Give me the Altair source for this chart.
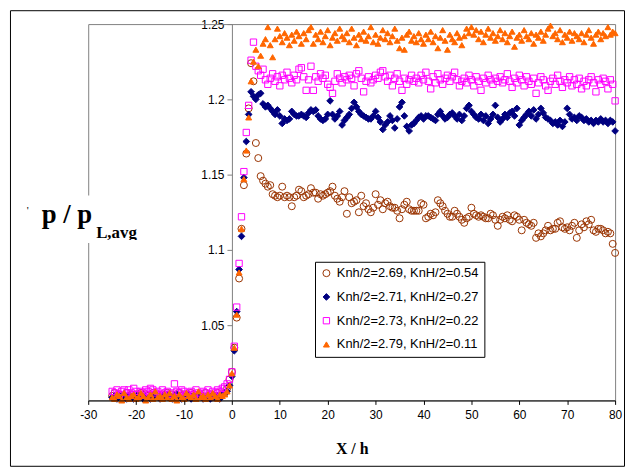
import altair as alt
import pandas as pd

# ---------------- data ----------------
X_START = -25.0
X_STEP = 0.5
N_POINTS = 211
x_values = [round(X_START + X_STEP * i, 2) for i in range(N_POINTS)]

series_labels = [
    "Knh/2=2.69, KnH/2=0.54",
    "Knh/2=2.71, KnH/2=0.27",
    "Knh/2=2.73, KnH/2=0.22",
    "Knh/2=2.79, KnH/2=0.11",
]

# brown open circles
p_269 = [
    1.003, 1.005, 1.002, 1.004, 1.003, 1.002, 1.005, 1.003, 1.004, 1.002,
    1.004, 1.003, 1.005, 1.002, 1.004, 1.003, 1.002, 1.005, 1.003, 1.004,
    1.002, 1.004, 1.003, 1.005, 1.002, 1.004, 1.003, 1.002, 1.005, 1.003,
    1.004, 1.002, 1.003, 1.005, 1.004, 1.002, 1.003, 1.004, 1.002, 1.005,
    1.003, 1.004, 1.002, 1.003, 1.005, 1.003, 1.004, 1.005, 1.008, 1.014,
    1.019, 1.035, 1.055, 1.081, 1.114, 1.143, 1.164, 1.194, 1.224, 1.212, 1.171, 1.161, 1.149, 1.146, 1.144, 1.142,
    1.143, 1.137, 1.136, 1.135, 1.136, 1.142, 1.135, 1.136, 1.135, 1.129, 1.135, 1.136, 1.140, 1.139, 1.135, 1.136,
    1.137, 1.141, 1.138, 1.138, 1.134, 1.137, 1.136, 1.137, 1.138, 1.139, 1.142, 1.136, 1.134, 1.132, 1.135, 1.139,
    1.124, 1.135, 1.131, 1.132, 1.133, 1.125, 1.136, 1.129, 1.131, 1.127, 1.125, 1.128, 1.137, 1.130, 1.133, 1.127,
    1.131, 1.132, 1.129, 1.128, 1.128, 1.126, 1.121, 1.127, 1.130, 1.132, 1.127, 1.126, 1.126, 1.126, 1.126, 1.131,
    1.130, 1.121, 1.122, 1.124, 1.123, 1.125, 1.133, 1.131, 1.129, 1.126, 1.124, 1.122, 1.122, 1.126, 1.124, 1.122,
    1.120, 1.118, 1.121, 1.122, 1.128, 1.124, 1.123, 1.122, 1.123, 1.122, 1.121, 1.121, 1.124, 1.123, 1.120, 1.116,
    1.120, 1.122, 1.121, 1.123, 1.120, 1.119, 1.123, 1.122, 1.120, 1.113, 1.120, 1.118, 1.117, 1.116, 1.118, 1.108,
    1.111, 1.109, 1.111, 1.113, 1.116, 1.113, 1.114, 1.114, 1.118, 1.119, 1.115, 1.114, 1.115, 1.113, 1.116, 1.118,
    1.108, 1.113, 1.117, 1.115, 1.119, 1.117, 1.120, 1.113, 1.112, 1.114, 1.114, 1.113, 1.111, 1.112, 1.111, 1.104,
    1.098,
]

# navy filled diamonds
p_271 = [
    1.002, 1.003, 1.001, 1.003, 1.002, 1.004, 1.001, 1.003, 1.002, 1.001,
    1.003, 1.002, 1.004, 1.001, 1.003, 1.002, 1.001, 1.004, 1.002, 1.003,
    1.001, 1.003, 1.002, 1.004, 1.002, 1.001, 1.003, 1.004, 1.002, 1.001,
    1.003, 1.002, 1.004, 1.001, 1.003, 1.002, 1.004, 1.003, 1.001, 1.002,
    1.003, 1.001, 1.004, 1.002, 1.003, 1.001, 1.004, 1.005, 1.006, 1.010,
    1.016, 1.033, 1.059, 1.087, 1.109, 1.148, 1.172, 1.190, 1.205, 1.202, 1.200, 1.203, 1.204, 1.197, 1.195, 1.196,
    1.194, 1.192, 1.190, 1.193, 1.189, 1.184, 1.187, 1.186, 1.187, 1.192, 1.190, 1.189, 1.189, 1.190, 1.189, 1.188,
    1.191, 1.193, 1.192, 1.193, 1.189, 1.187, 1.186, 1.187, 1.190, 1.199, 1.190, 1.187, 1.189, 1.192, 1.183, 1.186,
    1.188, 1.190, 1.194, 1.198, 1.195, 1.192, 1.190, 1.189, 1.188, 1.187, 1.187, 1.189, 1.192, 1.188, 1.185, 1.180,
    1.183, 1.185, 1.189, 1.186, 1.181, 1.187, 1.195, 1.198, 1.189, 1.182, 1.179, 1.183, 1.184, 1.186, 1.188, 1.189,
    1.187, 1.189, 1.189, 1.188, 1.187, 1.186, 1.190, 1.192, 1.189, 1.187, 1.188, 1.190, 1.191, 1.189, 1.187, 1.190,
    1.186, 1.189, 1.194, 1.196, 1.192, 1.190, 1.188, 1.187, 1.190, 1.186, 1.189, 1.184, 1.187, 1.190, 1.196, 1.188,
    1.185, 1.187, 1.190, 1.188, 1.191, 1.192, 1.189, 1.194, 1.183, 1.186, 1.188, 1.190, 1.192, 1.189, 1.193, 1.187,
    1.190, 1.194, 1.191, 1.188, 1.187, 1.186, 1.184, 1.185, 1.183, 1.186, 1.182, 1.185, 1.194, 1.190, 1.187, 1.188,
    1.186, 1.189, 1.188, 1.186, 1.187, 1.185, 1.186, 1.184, 1.186, 1.185, 1.187, 1.185, 1.186, 1.184, 1.186, 1.185,
    1.179,
]

# magenta open squares
p_273 = [
    1.006, 1.005, 1.007, 1.004, 1.006, 1.007, 1.005, 1.007, 1.005, 1.008,
    1.006, 1.004, 1.006, 1.005, 1.007, 1.006, 1.008, 1.007, 1.005, 1.006,
    1.004, 1.007, 1.005, 1.006, 1.004, 1.005, 1.011, 1.006, 1.005, 1.007,
    1.006, 1.004, 1.005, 1.006, 1.004, 1.007, 1.005, 1.003, 1.006, 1.005,
    1.007, 1.004, 1.006, 1.005, 1.007, 1.006, 1.008, 1.009, 1.011, 1.014,
    1.019, 1.036, 1.062, 1.091, 1.122, 1.152, 1.178, 1.196, 1.226, 1.238, 1.222, 1.219, 1.216, 1.220, 1.213, 1.210,
    1.214, 1.217, 1.212, 1.215, 1.209, 1.216, 1.213, 1.218, 1.214, 1.211, 1.216, 1.213, 1.220, 1.221, 1.215, 1.206,
    1.213, 1.222, 1.206, 1.215, 1.212, 1.217, 1.214, 1.216, 1.210, 1.208, 1.204, 1.212, 1.217, 1.214, 1.211, 1.215,
    1.213, 1.216, 1.214, 1.209, 1.217, 1.219, 1.214, 1.205, 1.212, 1.215, 1.211, 1.213, 1.216, 1.214, 1.218, 1.219,
    1.215, 1.212, 1.216, 1.209, 1.214, 1.217, 1.212, 1.206, 1.214, 1.210, 1.213, 1.216, 1.212, 1.214, 1.211, 1.216,
    1.213, 1.218, 1.212, 1.207, 1.215, 1.211, 1.217, 1.213, 1.210, 1.214, 1.216, 1.212, 1.215, 1.218, 1.213, 1.209,
    1.212, 1.214, 1.211, 1.216, 1.213, 1.209, 1.215, 1.212, 1.206, 1.214, 1.211, 1.216, 1.213, 1.210, 1.214, 1.212,
    1.215, 1.211, 1.213, 1.217, 1.212, 1.208, 1.214, 1.211, 1.216, 1.213, 1.209, 1.215, 1.212, 1.210, 1.214, 1.204,
    1.211, 1.215, 1.213, 1.209, 1.206, 1.212, 1.214, 1.210, 1.216, 1.212, 1.208, 1.213, 1.211, 1.215, 1.209, 1.213,
    1.210, 1.214, 1.207, 1.212, 1.209, 1.213, 1.215, 1.211, 1.205, 1.213, 1.210, 1.214, 1.212, 1.207, 1.213, 1.210,
    1.199,
]

# orange filled triangles
p_279 = [
    1.002, 1.001, 1.004, 1.003, 1.000, 1.005, 1.002, 1.001, 1.003, 1.004,
    1.001, 1.002, 1.005, 1.003, 1.000, 1.002, 1.004, 1.001, 1.006, 1.002,
    1.003, 1.001, 1.004, 1.002, 1.005, 1.001, 1.003, 1.000, 1.004, 1.002,
    1.001, 1.005, 1.003, 1.002, 1.004, 1.001, 1.006, 1.002, 1.003, 1.001,
    1.004, 1.002, 1.005, 1.003, 1.001, 1.004, 1.003, 1.004, 1.006, 1.010,
    1.018, 1.035, 1.057, 1.085, 1.114, 1.147, 1.166, 1.188, 1.212, 1.225, 1.233, 1.222, 1.229, 1.237, 1.240, 1.248,
    1.236, 1.228, 1.240, 1.247, 1.242, 1.238, 1.244, 1.241, 1.236, 1.243, 1.239, 1.245, 1.242, 1.237, 1.244, 1.240,
    1.246, 1.248, 1.237, 1.243, 1.240, 1.245, 1.238, 1.242, 1.246, 1.236, 1.241, 1.244, 1.239, 1.247, 1.242, 1.240,
    1.244, 1.238, 1.247, 1.241, 1.236, 1.243, 1.240, 1.245, 1.239, 1.242, 1.248, 1.238, 1.243, 1.237, 1.241, 1.246,
    1.240, 1.244, 1.238, 1.242, 1.247, 1.239, 1.234, 1.241, 1.233, 1.243, 1.245, 1.239, 1.242, 1.238, 1.244, 1.240,
    1.237, 1.243, 1.240, 1.245, 1.238, 1.242, 1.234, 1.241, 1.246, 1.239, 1.233, 1.243, 1.240, 1.238, 1.244, 1.241,
    1.236, 1.242, 1.247, 1.244, 1.248, 1.243, 1.246, 1.240, 1.245, 1.238, 1.243, 1.247, 1.241, 1.244, 1.239, 1.242,
    1.246, 1.240, 1.244, 1.238, 1.242, 1.245, 1.235, 1.241, 1.243, 1.239, 1.246, 1.242, 1.240, 1.244, 1.237, 1.243,
    1.241, 1.245, 1.239, 1.243, 1.247, 1.249, 1.242, 1.244, 1.240, 1.246, 1.238, 1.243, 1.241, 1.245, 1.239, 1.244,
    1.242, 1.240, 1.244, 1.238, 1.243, 1.246, 1.241, 1.237, 1.243, 1.245, 1.240, 1.244, 1.242, 1.248, 1.243, 1.245,
    1.244,
]

series_values = [p_269, p_271, p_273, p_279]
series_colors = ["#993300", "#000080", "#FF00FF", "#FF6600"]
series_fills = ["transparent", "#000080", "transparent", "#FF6600"]
series_shapes = ["circle", "diamond", "square", "triangle-up"]
series_sizes = [50, 36, 28, 50]

x_ticks = [-30, -20, -10, 0, 10, 20, 30, 40, 50, 60, 70, 80]
y_ticks = [1.05, 1.1, 1.15, 1.2, 1.25]

rows = []
for lab, ys in zip(series_labels, series_values):
    assert len(ys) == N_POINTS, (lab, len(ys))
    for xv, yv in zip(x_values, ys):
        rows.append({"x": xv, "y": yv, "series": lab})
df = pd.DataFrame(rows)

# ---------------- layout ----------------
W, H = 532, 380
X_MIN, X_MAX = -30, 80
Y_MIN, Y_MAX = 1.0, 1.25
Y_AXIS_POS = W * (0 - X_MIN) / (X_MAX - X_MIN)  # y axis crosses at x = 0

xscale = alt.Scale(domain=[X_MIN, X_MAX], nice=False, zero=False)
yscale = alt.Scale(domain=[Y_MIN, Y_MAX], nice=False, zero=False)

one = pd.DataFrame({"k": [0]})

# outer chart-area frame (black) and plot-area frame (gray)
outer_frame = alt.Chart(one).mark_rect(fillOpacity=0, stroke="black", strokeWidth=1).encode(
    x=alt.value(-78.5), x2=alt.value(541.5), y=alt.value(-13.5), y2=alt.value(446.5)
)
plot_frame = alt.Chart(one).mark_rect(fillOpacity=0, stroke="#808080", strokeWidth=1).encode(
    x=alt.value(0.5), x2=alt.value(W + 0.5), y=alt.value(0.5), y2=alt.value(H + 0.5)
)

points = alt.Chart(df).mark_point(filled=False, opacity=1, strokeWidth=1).encode(
    x=alt.X(
        "x:Q", scale=xscale,
        axis=alt.Axis(
            values=x_ticks, title="X / h", grid=False, zindex=1,
            domainColor="black", tickColor="black", tickSize=4,
            labelFont="Liberation Sans", labelFontSize=12, labelColor="black",
            labelPadding=5, labelFlush=False, labelOverlap=False,
            labelExpr="'' + datum.value",
            titleFont="Liberation Serif", titleFontSize=16, titleFontWeight="bold",
            titleColor="black", titlePadding=21,
        ),
    ),
    y=alt.Y(
        "y:Q", scale=yscale,
        axis=alt.Axis(
            values=y_ticks, title=None, grid=False, offset=-Y_AXIS_POS,
            domainColor="#808080", tickColor="#808080", tickSize=5,
            labelFont="Liberation Sans", labelFontSize=12, labelColor="black",
            labelPadding=3, labelOverlap=False,
            labelExpr="'' + datum.value",
        ),
    ),
    color=alt.Color("series:N", scale=alt.Scale(domain=series_labels, range=series_colors),
                    legend=alt.Legend(title=None)),
    fill=alt.Fill("series:N", scale=alt.Scale(domain=series_labels, range=series_fills),
                  legend=alt.Legend(title=None)),
    shape=alt.Shape("series:N", scale=alt.Scale(domain=series_labels, range=series_shapes),
                    legend=alt.Legend(title=None)),
    size=alt.Size("series:N", scale=alt.Scale(domain=series_labels, range=series_sizes), legend=None),
)

# y-axis title box (Excel text box with white background)
title_box = alt.Chart(one).mark_rect(fill="white").encode(
    x=alt.value(-54), x2=alt.value(56), y=alt.value(173), y2=alt.value(221)
)
title_tick = alt.Chart(one).mark_text(
    text="'", font="Liberation Serif", fontSize=11,
    align="center", baseline="alphabetic", color="black",
).encode(x=alt.value(-61), y=alt.value(192))
title_main = alt.Chart(one).mark_text(
    text="p / p", font="Liberation Serif", fontSize=27, fontWeight="bold",
    align="left", baseline="alphabetic", color="black",
).encode(x=alt.value(-47), y=alt.value(201))
title_sub = alt.Chart(one).mark_text(
    text="L,avg", font="Liberation Serif", fontSize=17, fontWeight="bold",
    align="left", baseline="alphabetic", color="black",
).encode(x=alt.value(8), y=alt.value(216))
title_clip = alt.Chart(one).mark_rect(fill="white").encode(
    x=alt.value(6), x2=alt.value(56), y=alt.value(218), y2=alt.value(228)
)

chart = alt.layer(
    outer_frame, plot_frame, title_box, points, title_tick, title_main, title_sub, title_clip
).properties(
    width=W, height=H,
    autosize=alt.AutoSizeParams(type="none"),
    padding={"left": 81, "top": 14, "right": 11, "bottom": 68},
    background="white",
).configure_view(
    strokeWidth=0
).configure_legend(
    orient="none", legendX=229, legendY=240,
    strokeColor="black", fillColor="white", padding=5,
    labelFont="Liberation Sans", labelFontSize=13, labelColor="black", labelLimit=400,
    symbolSize=25, symbolStrokeWidth=1, rowPadding=10, labelOffset=4,
)

chart.save("out.html", embed_options={"renderer": "svg", "actions": False})
